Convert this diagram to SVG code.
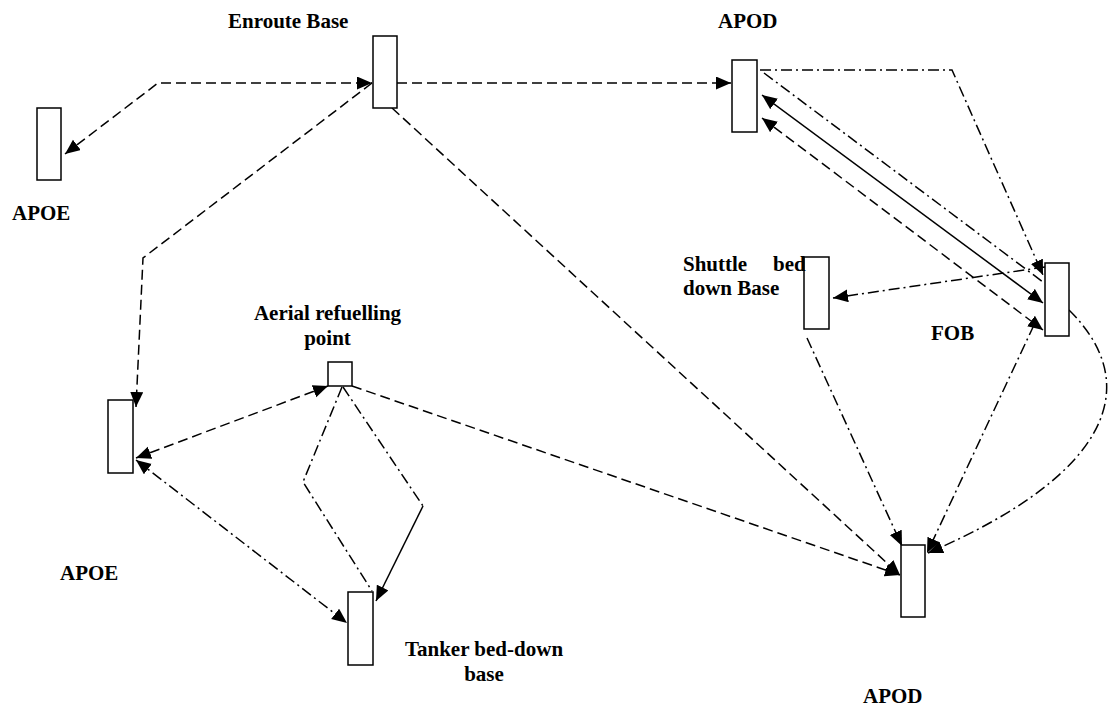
<svg xmlns="http://www.w3.org/2000/svg" width="1114" height="706" viewBox="0 0 1114 706">
<defs>
<style>
.node rect{fill:#fff;stroke:#000;stroke-width:1.5}
text{font-family:"Liberation Serif","Times New Roman",serif;font-weight:bold;font-size:21px;fill:#000}
.c path{fill:none;stroke:#000;stroke-width:1.5}
.dash{stroke-dasharray:10,5}
.dd{stroke-dasharray:11,4,2,4}
.arr{marker-end:url(#ah)}
.arr2{marker-start:url(#ah);marker-end:url(#ah)}
</style>
<marker id="ah" markerUnits="userSpaceOnUse" markerWidth="16" markerHeight="14" refX="15" refY="6.5" orient="auto-start-reverse" viewBox="0 0 16 14">
<path d="M0,0 L15,6.5 L0,13 z" fill="#000"/>
</marker>
</defs>
<rect width="1114" height="706" fill="#fff"/>

<g class="c" id="connectors">
<path class="dash arr2" d="M65,154 L158,83 L372,83"/>
<path class="dash arr" d="M372,83 L143,258 L136,407"/>
<path class="dash arr" d="M397,83 L731,83"/>
<path class="dash arr" d="M392,108 L900,575"/>
<path class="dash arr" d="M352,386 L900,575"/>
<path class="dash arr2" d="M136,458 L328,386"/>
<path class="dd arr2" d="M136,460 L347,623"/>
<path class="dd" d="M342,387 L303,482 L372,591"/>
<path class="dd" d="M343,387 L423,506"/>
<path class="arr" d="M423,506 L376,601"/>
<path class="dd arr" d="M760,70 L952,70 L1043,275"/>
<path class="dd" d="M764,73 L1043,282"/>
<path class="arr2" d="M762,95 L1043,303"/>
<path class="dash arr2" d="M762,118 L1043,330"/>
<path class="dd arr" d="M1045,267 L833,298"/>
<path class="dd arr" d="M807,338 L902,546"/>
<path class="dd arr" d="M1034,325 L927,553"/>
<path class="dd arr" d="M1069,310 C1140,380 1120,470 928,553"/>
</g>

<g id="enroute" class="node"><rect x="373" y="36" width="24" height="72"/><text x="228" y="28">Enroute Base</text></g>
<g id="apoe-top" class="node"><rect x="37" y="108" width="24" height="72"/><text x="12" y="220">APOE</text></g>
<g id="apod-top" class="node"><rect x="732" y="60" width="25" height="72"/><text x="718" y="28">APOD</text></g>
<g id="shuttle" class="node"><rect x="804" y="257" width="25" height="72"/><text x="683" y="271">Shuttle</text><text x="773" y="271">bed</text><text x="683" y="295">down Base</text></g>
<g id="fob" class="node"><rect x="1045" y="263" width="24" height="73"/><text x="931" y="340">FOB</text></g>
<g id="apoe-low" class="node"><rect x="108" y="400" width="25" height="73"/><text x="60" y="580">APOE</text></g>
<g id="aerial" class="node"><rect x="328" y="362" width="24" height="24"/><text x="327.5" y="320" text-anchor="middle">Aerial refuelling</text><text x="327.5" y="345" text-anchor="middle">point</text></g>
<g id="tanker" class="node"><rect x="348" y="592" width="25" height="73"/><text x="484" y="656" text-anchor="middle">Tanker bed-down</text><text x="484" y="681" text-anchor="middle">base</text></g>
<g id="apod-low" class="node"><rect x="901" y="545" width="24" height="72"/><text x="863" y="703">APOD</text></g>
</svg>
